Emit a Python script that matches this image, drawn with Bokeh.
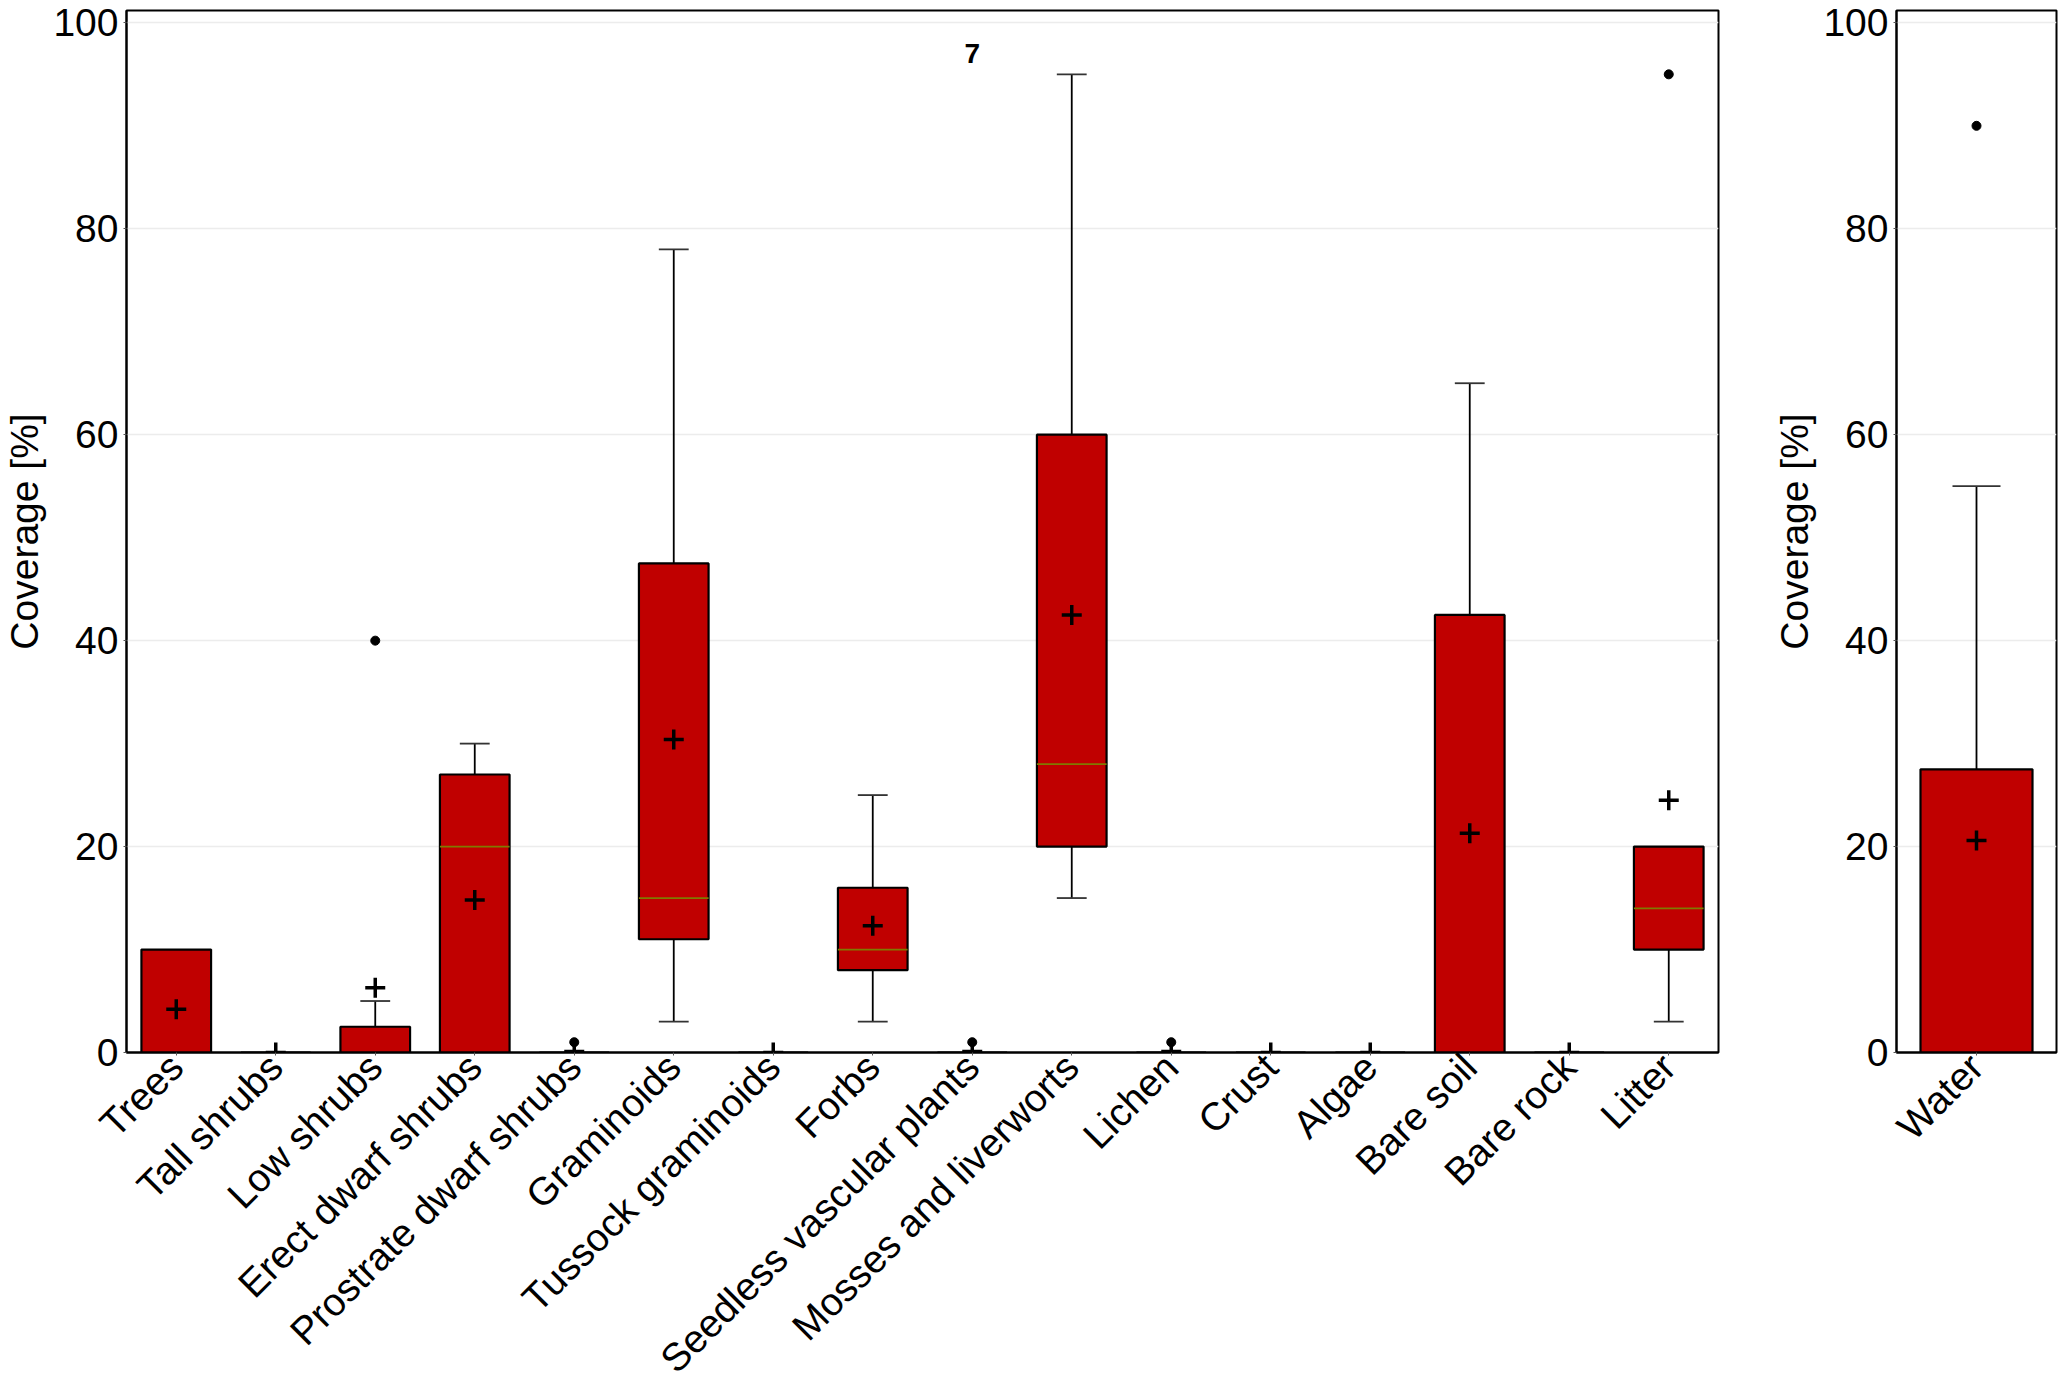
import math
from bokeh.plotting import figure
from bokeh.models import ColumnDataSource, FixedTicker, Range1d, FactorRange
from bokeh.transform import dodge
from bokeh.layouts import row
from bokeh.embed import file_html
from bokeh.resources import INLINE
from bokeh.core.properties import value

# ---------------- data ----------------
categories = ["Trees", "Tall shrubs", "Low shrubs", "Erect dwarf shrubs",
              "Prostrate dwarf shrubs", "Graminoids", "Tussock graminoids", "Forbs",
              "Seedless vascular plants", "Mosses and liverworts", "Lichen", "Crust",
              "Algae", "Bare soil", "Bare rock", "Litter"]
q1 = [0, 0, 0, 0, 0, 11, 0, 8, 0, 20, 0, 0, 0, 0, 0, 10]
median = [0, 0, 0, 20, 0, 15, 0, 10, 0, 28, 0, 0, 0, 0, 0, 14]
q3 = [10, 0, 2.5, 27, 0, 47.5, 0, 16, 0, 60, 0, 0, 0, 42.5, 0, 20]
whisker_low = [0, 0, 0, 0, 0, 3, 0, 3, 0, 15, 0, 0, 0, 0, 0, 3]
whisker_high = [10, 0, 5, 30, 0, 78, 0, 25, 0, 95, 0, 0, 0, 65, 0, 20]
means = [4.2, 0, 6.3, 14.8, 0.1, 30.4, 0, 12.3, 0.1, 42.5, 0.1, 0, 0, 21.3, 0, 24.5]
outlier_cat = ["Low shrubs", "Prostrate dwarf shrubs", "Seedless vascular plants", "Lichen", "Litter"]
outlier_val = [40, 1, 1, 1, 95]
note_cat = ["Seedless vascular plants"]
note_val = [97]
note_text = ["7"]

water_cat = ["Water"]
water_q1 = [0]
water_median = [0]
water_q3 = [27.5]
water_low = [0]
water_high = [55]
water_mean = [20.6]
water_out_cat = ["Water"]
water_out_val = [90]

y_ticks = [0, 20, 40, 60, 80, 100]

FONT = "Liberation Sans"
FS = "39px"
BOX_FILL = "#C00000"
MEDIAN_COLOR = "#7f7a00"


def panel(cats, lo, med, hi, wlo, whi, mean, ocat, oval, frame_w, border_l, border_r):
    p = figure(x_range=FactorRange(factors=cats), y_range=Range1d(0, 101.2),
               frame_width=frame_w, frame_height=1042,
               min_border_left=border_l, min_border_right=border_r,
               min_border_top=10, min_border_bottom=0,
               output_backend="svg", toolbar_location=None)
    p.background_fill_color = "white"
    p.border_fill_color = "white"
    p.outline_line_color = "black"
    p.outline_line_width = 2
    p.outline_line_alpha = 1

    src = ColumnDataSource(dict(cat=cats, lo=lo, med=med, hi=hi, wlo=wlo, whi=whi, mean=mean))
    # whiskers
    up = [i for i in range(len(cats)) if whi[i] > hi[i]]
    dn = [i for i in range(len(cats)) if wlo[i] < lo[i]]
    if up:
        us = ColumnDataSource(dict(cat=[cats[i] for i in up], a=[hi[i] for i in up], b=[whi[i] for i in up]))
        p.segment(x0="cat", x1="cat", y0="a", y1="b", source=us, line_color="black", line_width=1.8)
        p.segment(x0=dodge("cat", -0.15, range=p.x_range), x1=dodge("cat", 0.15, range=p.x_range),
                  y0="b", y1="b", source=us, line_color="#333333", line_width=1.8)
    if dn:
        ds = ColumnDataSource(dict(cat=[cats[i] for i in dn], a=[lo[i] for i in dn], b=[wlo[i] for i in dn]))
        p.segment(x0="cat", x1="cat", y0="a", y1="b", source=ds, line_color="black", line_width=1.8)
        p.segment(x0=dodge("cat", -0.15, range=p.x_range), x1=dodge("cat", 0.15, range=p.x_range),
                  y0="b", y1="b", source=ds, line_color="#333333", line_width=1.8)
    # boxes
    p.vbar(x="cat", width=0.7, bottom="lo", top="hi", source=src,
           fill_color=BOX_FILL, line_color="black", line_width=2.2)
    # medians
    mi = [i for i in range(len(cats)) if lo[i] < med[i] < hi[i]]
    if mi:
        ms = ColumnDataSource(dict(cat=[cats[i] for i in mi], m=[med[i] for i in mi]))
        p.segment(x0=dodge("cat", -0.35, range=p.x_range), x1=dodge("cat", 0.35, range=p.x_range),
                  y0="m", y1="m", source=ms, line_color=MEDIAN_COLOR, line_width=1.8)
    # means
    p.scatter(x="cat", y="mean", source=src, marker="cross", size=20,
              line_color="black", line_width=3.5)
    # outliers
    p.scatter(x=ocat, y=oval, marker="circle", size=9, fill_color="black", line_color="black")

    # axes
    p.xgrid.visible = False
    p.ygrid.ticker = FixedTicker(ticks=y_ticks)
    p.ygrid.grid_line_color = "#ececec"
    p.ygrid.grid_line_width = 1.5
    p.yaxis.ticker = FixedTicker(ticks=y_ticks)
    p.yaxis.axis_label = "Coverage [%]"
    p.yaxis.axis_label_text_font = FONT
    p.yaxis.axis_label_text_font_style = "normal"
    p.yaxis.axis_label_text_font_size = FS
    p.yaxis.axis_label_text_color = "black"
    p.yaxis.axis_label_standoff = 4
    for ax in (p.xaxis[0], p.yaxis[0]):
        ax.major_label_text_font = FONT
        ax.major_label_text_font_size = FS
        ax.major_label_text_color = "black"
        ax.axis_line_color = "black"
        ax.axis_line_width = 2
        ax.major_tick_in = 0
        ax.major_tick_out = 3
        ax.major_tick_line_color = "#555555"
        ax.minor_tick_line_color = None
        ax.major_label_standoff = 5
    p.xaxis.major_label_orientation = math.pi / 4
    return p


p1 = panel(categories, q1, median, q3, whisker_low, whisker_high, means,
           outlier_cat, outlier_val, 1592, 100, 52)
p1.text(x=note_cat, y=note_val, text=note_text, text_font=value(FONT), text_font_style="bold",
        text_font_size="28px", text_align="center", text_baseline="middle", text_color="black")

p2 = panel(water_cat, water_q1, water_median, water_q3, water_low, water_high, water_mean,
           water_out_cat, water_out_val, 160, 110, 3)

layout = row(p1, p2)
open("out.html", "w").write(file_html(layout, INLINE))
